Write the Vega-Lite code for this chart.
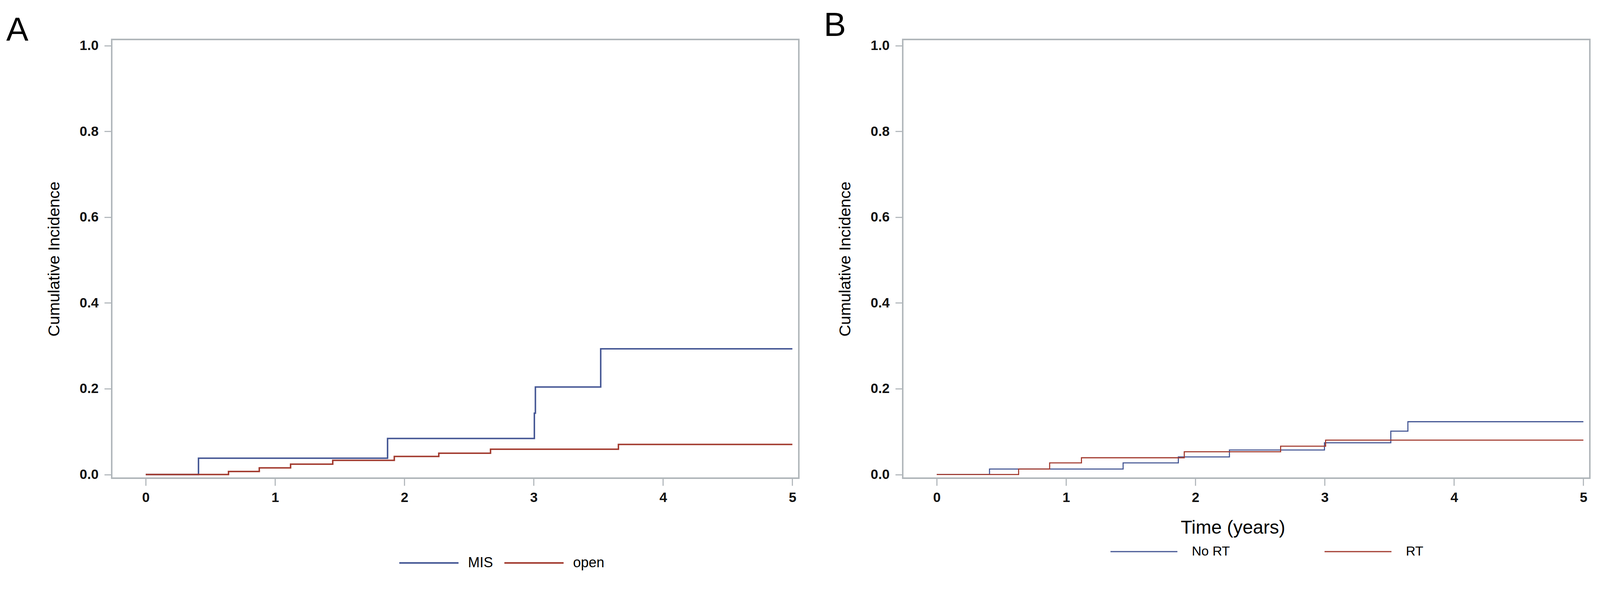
{
  "$schema": "https://vega.github.io/schema/vega-lite/v6.json",
  "background": "white",
  "padding": {"left": 14, "top": 21, "right": 10, "bottom": 10},
  "datasets": {
    "a": [
      {"group": "MIS", "t": 0, "ci": 0},
      {"group": "MIS", "t": 0.408, "ci": 0.038},
      {"group": "MIS", "t": 1.87, "ci": 0.084},
      {"group": "MIS", "t": 3.005, "ci": 0.143},
      {"group": "MIS", "t": 3.013, "ci": 0.204},
      {"group": "MIS", "t": 3.518, "ci": 0.293},
      {"group": "MIS", "t": 5.0, "ci": 0.293},
      {"group": "open", "t": 0, "ci": 0},
      {"group": "open", "t": 0.64, "ci": 0.007},
      {"group": "open", "t": 0.878, "ci": 0.0155},
      {"group": "open", "t": 1.12, "ci": 0.024},
      {"group": "open", "t": 1.446, "ci": 0.033},
      {"group": "open", "t": 1.922, "ci": 0.042},
      {"group": "open", "t": 2.266, "ci": 0.0495},
      {"group": "open", "t": 2.666, "ci": 0.059},
      {"group": "open", "t": 3.655, "ci": 0.07},
      {"group": "open", "t": 5.0, "ci": 0.07}
    ],
    "b": [
      {"group": "No RT", "t": 0, "ci": 0},
      {"group": "No RT", "t": 0.408, "ci": 0.0126},
      {"group": "No RT", "t": 1.441, "ci": 0.027},
      {"group": "No RT", "t": 1.868, "ci": 0.041},
      {"group": "No RT", "t": 2.263, "ci": 0.057},
      {"group": "No RT", "t": 2.998, "ci": 0.074},
      {"group": "No RT", "t": 3.511, "ci": 0.101},
      {"group": "No RT", "t": 3.643, "ci": 0.123},
      {"group": "No RT", "t": 5.0, "ci": 0.123},
      {"group": "RT", "t": 0, "ci": 0},
      {"group": "RT", "t": 0.633, "ci": 0.0126},
      {"group": "RT", "t": 0.873, "ci": 0.027},
      {"group": "RT", "t": 1.119, "ci": 0.039},
      {"group": "RT", "t": 1.914, "ci": 0.053},
      {"group": "RT", "t": 2.659, "ci": 0.066},
      {"group": "RT", "t": 3.007, "ci": 0.08},
      {"group": "RT", "t": 5.0, "ci": 0.08}
    ]
  },
  "config": {
    "font": "Liberation Sans",
    "view": {"stroke": "#b0b6ba", "strokeWidth": 3.8},
    "axis": {
      "domain": false,
      "grid": false,
      "tickColor": "#b0b6ba",
      "tickWidth": 2.8,
      "tickSize": 19,
      "labelFont": "Liberation Sans",
      "labelFontSize": 35,
      "labelFontWeight": "bold",
      "labelColor": "#111",
      "titleFont": "Liberation Sans",
      "titleFontWeight": "normal",
      "titleColor": "#000"
    },
    "legend": {"padding": 0, "labelFont": "Liberation Sans", "labelColor": "#000", "clipHeight": 38}
  },
  "spacing": 60,
  "resolve": {"scale": {"color": "independent"}, "legend": {"color": "independent"}},
  "hconcat": [
    {
      "width": 1759,
      "height": 1123,
      "title": {"text": "A", "anchor": "start", "frame": "group", "dx": -270, "fontSize": 85, "fontWeight": "normal", "baseline": "alphabetic", "offset": -89, "font": "Liberation Sans", "color": "#000"},
      "data": {"name": "a"},
      "mark": {"type": "line", "interpolate": "step-after", "strokeWidth": 3.8},
      "encoding": {
        "x": {"field": "t", "type": "quantitative", "scale": {"domain": [-0.263, 5.05], "nice": false, "zero": false},
              "axis": {"values": [0, 1, 2, 3, 4, 5], "format": "d", "title": null, "labelPadding": 13, "labelFlush": false}},
        "y": {"field": "ci", "type": "quantitative", "scale": {"domain": [-0.0086, 1.0142], "nice": false, "zero": false},
              "axis": {"values": [0, 0.2, 0.4, 0.6, 0.8, 1.0], "format": ".1f", "title": "Cumulative Incidence", "titleFontSize": 41.5, "titlePadding": 43, "labelPadding": 15}},
        "color": {"field": "group", "type": "nominal", "scale": {"domain": ["MIS", "open"], "range": ["#445694", "#A23A2E"]},
                  "legend": {"title": null, "orient": "none", "legendX": 734, "legendY": 1321, "direction": "horizontal", "symbolType": "stroke", "symbolSize": 22982, "symbolStrokeWidth": 3.8, "labelFontSize": 36, "labelOffset": 22, "columnPadding": 26}}
      }
    },
    {
      "width": 1759,
      "height": 1123,
      "title": {"text": "B", "anchor": "start", "frame": "group", "dx": -202, "dy": -12, "fontSize": 85, "fontWeight": "normal", "baseline": "alphabetic", "offset": -89, "font": "Liberation Sans", "color": "#000"},
      "data": {"name": "b"},
      "mark": {"type": "line", "interpolate": "step-after", "strokeWidth": 2.8},
      "encoding": {
        "x": {"field": "t", "type": "quantitative", "scale": {"domain": [-0.263, 5.05], "nice": false, "zero": false},
              "axis": {"values": [0, 1, 2, 3, 4, 5], "format": "d", "title": "Time (years)", "titleFontSize": 48, "titlePadding": 36, "titleX": 845, "labelPadding": 13, "labelFlush": false}},
        "y": {"field": "ci", "type": "quantitative", "scale": {"domain": [-0.0086, 1.0142], "nice": false, "zero": false},
              "axis": {"values": [0, 0.2, 0.4, 0.6, 0.8, 1.0], "format": ".1f", "title": "Cumulative Incidence", "titleFontSize": 41.5, "titlePadding": 43, "labelPadding": 15}},
        "color": {"field": "group", "type": "nominal", "scale": {"domain": ["No RT", "RT"], "range": ["#445694", "#A23A2E"]},
                  "legend": {"title": null, "orient": "none", "legendX": 530, "legendY": 1292, "direction": "horizontal", "symbolType": "stroke", "symbolSize": 29350, "symbolStrokeWidth": 2.8, "labelFontSize": 34, "labelOffset": 35, "columnPadding": 240}}
      }
    }
  ]
}
